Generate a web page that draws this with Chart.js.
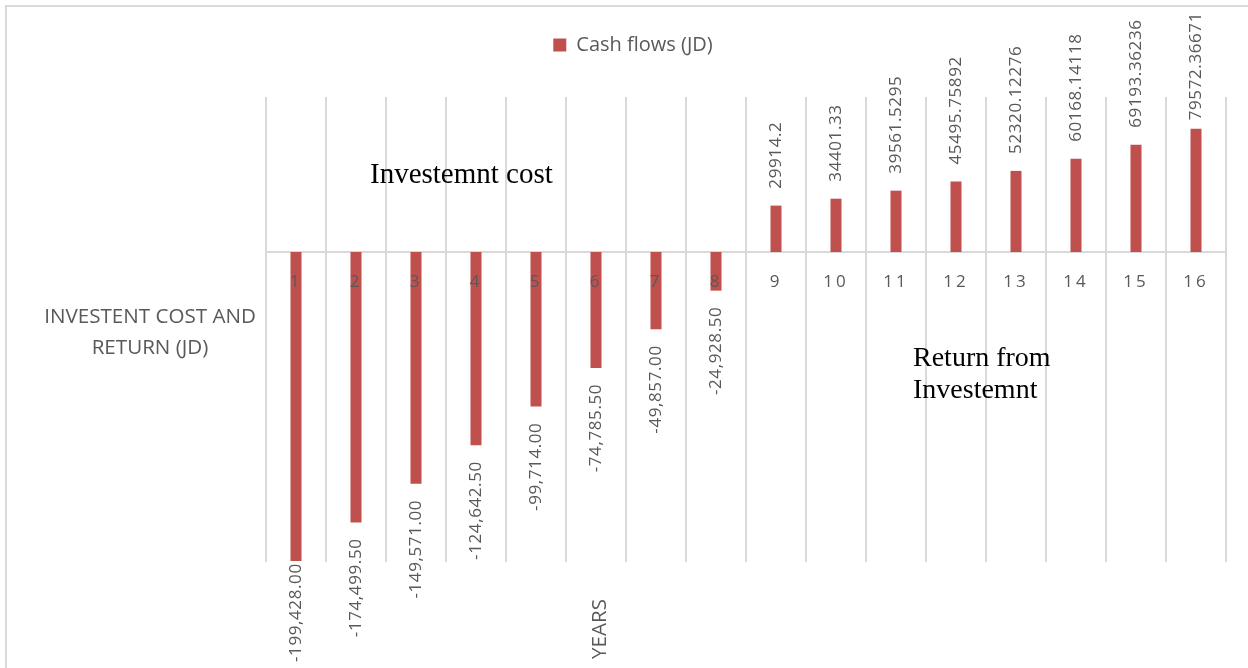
<!DOCTYPE html>
<html>
<head>
<meta charset="utf-8">
<script src="https://cdn.jsdelivr.net/npm/chart.js@4.4.1/dist/chart.umd.min.js"></script>
<style>
  html, body { margin: 0; padding: 0; background: #ffffff; overflow: hidden; }
  #frame { position: absolute; left: 5px; top: 5px; width: 2000px; height: 2000px; border: 2px solid #d9d9d9; box-sizing: border-box; }
  #c { position: absolute; left: 0; top: 0; }
</style>
</head>
<body>
<div id="frame"></div>
<canvas id="c" width="1248" height="668"></canvas>
<script>
// ---- data ----
const years = ['1','2','3','4','5','6','7','8','9','10','11','12','13','14','15','16'];
const cashFlows = [-199428.00, -174499.50, -149571.00, -124642.50, -99714.00, -74785.50, -49857.00, -24928.50,
                   29914.2, 34401.33, 39561.5295, 45495.75892, 52320.12276, 60168.14118, 69193.36236, 79572.36671];
const seriesName = 'Cash flows (JD)';
const yTitleLines = ['INVESTENT COST AND', 'RETURN (JD)'];
const xTitle = 'YEARS';
const noteCost = ['Investemnt cost'];
const noteReturn = ['Return from', 'Investemnt'];

const TEXT = '#595959';
const GRID = '#d9d9d9';
const BAR = '#C0504D';

function fmtLabel(v) {
  if (v < 0) return v.toLocaleString('en-US', { minimumFractionDigits: 2, maximumFractionDigits: 2 });
  return String(v);
}

const legendSpacer = {
  id: 'legendSpacer',
  beforeInit(chart) {
    const origFit = chart.legend.fit;
    chart.legend.fit = function () {
      origFit.bind(chart.legend)();
      this.height += 32;
    };
  }
};

const valueLabels = {
  id: 'valueLabels',
  afterDatasetsDraw(chart) {
    const ctx = chart.ctx;
    const meta = chart.getDatasetMeta(0);
    const data = chart.data.datasets[0].data;
    ctx.save();
    ctx.font = '17px "Open Sans"';
    ctx.fillStyle = TEXT;
    ctx.letterSpacing = '0.6px';
    ctx.textBaseline = 'middle';
    meta.data.forEach((bar, i) => {
      const v = data[i];
      const txt = fmtLabel(v);
      const w = ctx.measureText(txt).width;
      ctx.save();
      if (v < 0) {
        const top = Math.min(bar.y + 16, 662 - w);
        ctx.translate(bar.x, top);
        ctx.rotate(-Math.PI / 2);
        ctx.textAlign = 'right';
      } else {
        const bottom = Math.max(bar.y - 17, 12 + w);
        ctx.translate(bar.x, bottom);
        ctx.rotate(-Math.PI / 2);
        ctx.textAlign = 'left';
      }
      ctx.fillText(txt, 0, 0);
      ctx.restore();
    });
    ctx.restore();
    // letter spacing for category tick labels drawn next (z = 1)
    ctx.letterSpacing = '3px';
  },
  afterDraw(chart) {
    const ctx = chart.ctx;
    ctx.letterSpacing = '0px';
    ctx.save();
    // y axis title
    ctx.fillStyle = TEXT;
    ctx.font = '20.6px "Open Sans"';
    ctx.textAlign = 'center';
    ctx.textBaseline = 'middle';
    yTitleLines.forEach((t, i) => ctx.fillText(t, 150, 317 + i * 31));
    // x axis title (rotated)
    ctx.save();
    ctx.translate(600, 629);
    ctx.rotate(-Math.PI / 2);
    ctx.fillText(xTitle, 0, 0);
    ctx.restore();
    // annotations
    ctx.fillStyle = '#000000';
    ctx.textAlign = 'left';
    ctx.textBaseline = 'alphabetic';
    ctx.font = '29px "Liberation Serif"';
    noteCost.forEach((t, i) => ctx.fillText(t, 370, 183 + i * 32));
    ctx.font = '28px "Liberation Serif"';
    noteReturn.forEach((t, i) => ctx.fillText(t, 913, 366 + i * 32));
    ctx.restore();
  }
};

new Chart(document.getElementById('c'), {
  type: 'bar',
  data: {
    labels: years,
    datasets: [{
      label: seriesName,
      data: cashFlows,
      backgroundColor: BAR,
      borderWidth: 0,
      barPercentage: 11 / 60,
      categoryPercentage: 1.0
    }]
  },
  options: {
    responsive: false,
    animation: false,
    events: [],
    layout: { padding: { left: 40, right: 22, top: 25, bottom: 106 } },
    plugins: {
      tooltip: { enabled: false },
      legend: {
        display: true,
        position: 'top',
        labels: {
          boxWidth: 13,
          boxHeight: 13,
          color: TEXT,
          font: { family: '"Open Sans"', size: 20 },
          padding: 10
        }
      }
    },
    scales: {
      x: {
        position: { y: 0 },
        offset: true,
        grid: { display: true, color: GRID, lineWidth: 2, offset: true, drawTicks: false },
        border: { display: true, color: GRID, width: 2 },
        ticks: { color: TEXT, font: { family: '"Open Sans"', size: 17 }, padding: 20, maxRotation: 0, autoSkip: false, z: 1 }
      },
      y: {
        display: true,
        min: -200000,
        max: 100000,
        grid: { display: false },
        border: { display: false },
        ticks: { display: false },
        afterFit(scale) { scale.width = 226; }
      }
    }
  },
  plugins: [legendSpacer, valueLabels]
});
</script>
</body>
</html>
